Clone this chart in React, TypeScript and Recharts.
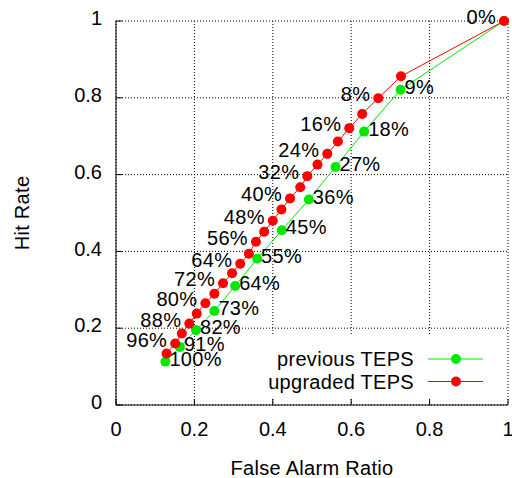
import React from 'react';
import {
  LineChart,
  Line,
  XAxis,
  YAxis,
  CartesianGrid,
  Legend,
  LabelList,
} from 'recharts';

const FONT = '"Liberation Sans", Arial, Helvetica, sans-serif';

// axis ticks
const xTicks = [0, 0.2, 0.4, 0.6, 0.8, 1];
const yTicks = [0, 0.2, 0.4, 0.6, 0.8, 1];

// previous TEPS (green)
const previousFar = [0.99, 0.726, 0.633, 0.56, 0.492, 0.423, 0.36, 0.304, 0.251, 0.204, 0.163, 0.126];
const previousHit = [1.0, 0.821, 0.712, 0.62, 0.535, 0.455, 0.381, 0.31, 0.245, 0.195, 0.151, 0.113];
const previousLabels = ['', '9%', '18%', '27%', '36%', '45%', '55%', '64%', '73%', '82%', '91%', '100%'];

// upgraded TEPS (red)
const upgradedFar = [
  0.99, 0.727, 0.669, 0.628, 0.595, 0.566, 0.539, 0.514, 0.488, 0.47, 0.444, 0.422, 0.4,
  0.378, 0.357, 0.339, 0.317, 0.296, 0.273, 0.251, 0.228, 0.206, 0.187, 0.168, 0.151, 0.129,
];
const upgradedHit = [
  1.0, 0.856, 0.799, 0.758, 0.721, 0.686, 0.654, 0.626, 0.596, 0.567, 0.538, 0.509, 0.48,
  0.451, 0.425, 0.394, 0.368, 0.343, 0.317, 0.29, 0.265, 0.238, 0.212, 0.186, 0.16, 0.134,
];
const upgradedLabels = [
  '0%', '', '8%', '', '16%', '', '24%', '', '32%', '', '40%', '', '48%',
  '', '56%', '', '64%', '', '72%', '', '80%', '', '88%', '', '96%', '',
];

const GREEN = '#00e800';
const RED = '#ff0000';

const toRows = (far: number[], hit: number[], labels: string[]) =>
  far.map((x, i) => ({ x, y: hit[i], label: labels[i] }));

const previousData = toRows(previousFar, previousHit, previousLabels);
const upgradedData = toRows(upgradedFar, upgradedHit, upgradedLabels);

const textStyle = { fontFamily: FONT, fontSize: 20, letterSpacing: 0.3, fill: '#000' };

// red labels sit left of the point, green ones to the right
const leftLabel = (props: any) => {
  const { x, y, value } = props;
  if (!value) return null;
  return (
    <text x={x - 8} y={y - 4} textAnchor="end" dominantBaseline="central" style={textStyle}>
      {value}
    </text>
  );
};

const rightLabel = (props: any) => {
  const { x, y, value } = props;
  if (!value) return null;
  return (
    <text x={x + 4} y={y - 3} textAnchor="start" dominantBaseline="central" style={textStyle}>
      {value}
    </text>
  );
};

const renderLegend = (props: any) => {
  const { payload = [] } = props;
  return (
    <div style={{ background: '#fff', width: 245, height: 63 }}>
      <svg width={245} height={63}>
        {payload.map((entry: any, i: number) => {
          const cy = 23 + i * 22.5;
          return (
            <g key={entry.value}>
              <text x={152} y={cy} textAnchor="end" dominantBaseline="central" style={textStyle}>
                {entry.value}
              </text>
              <line x1={166} x2={221} y1={cy} y2={cy} stroke={entry.color} strokeWidth={1} />
              <circle cx={194} cy={cy} r={5} fill={entry.color} />
            </g>
          );
        })}
      </svg>
    </div>
  );
};

export default function App() {
  return (
    <div
      style={{
        position: 'absolute',
        left: 0,
        top: 0,
        width: 512,
        height: 478,
        background: '#fff',
        fontFamily: FONT,
      }}
    >
      <LineChart width={512} height={478} margin={{ top: 21, right: 4, bottom: 0, left: 0 }}>
        <CartesianGrid stroke="#000" strokeDasharray="1 2" strokeWidth={1} />
        <XAxis
          dataKey="x"
          type="number"
          domain={[0, 1]}
          ticks={xTicks}
          interval={0}
          height={73}
          tickSize={-6}
          tickMargin={23}
          stroke="#000"
          tick={{ fill: '#000', fontSize: 20, fontFamily: FONT }}
          tickFormatter={(v) => String(v)}
          label={({ viewBox }: any) => (
            <text
              x={viewBox.x + viewBox.width / 2}
              y={viewBox.y + 70}
              textAnchor="middle"
              style={textStyle}
            >
              False Alarm Ratio
            </text>
          )}
        />
        <YAxis
          type="number"
          domain={[0, 1]}
          ticks={yTicks}
          interval={0}
          width={116}
          tickSize={-6}
          tickMargin={20}
          stroke="#000"
          tick={{ fill: '#000', fontSize: 20, fontFamily: FONT, dy: -3 }}
          tickFormatter={(v) => String(v)}
          label={({ viewBox }: any) => {
            const cx = viewBox.x + 22;
            const cy = viewBox.y + viewBox.height / 2;
            return (
              <text
                x={cx}
                y={cy}
                transform={`rotate(-90 ${cx} ${cy})`}
                textAnchor="middle"
                dominantBaseline="central"
                style={textStyle}
              >
                Hit Rate
              </text>
            );
          }}
        />
        <XAxis
          xAxisId="top"
          orientation="top"
          type="number"
          domain={[0, 1]}
          height={0}
          tick={false}
          tickLine={false}
          stroke="#000"
        />
        <YAxis
          yAxisId="right"
          orientation="right"
          type="number"
          domain={[0, 1]}
          width={0}
          tick={false}
          tickLine={false}
          stroke="#000"
        />
        <Legend
          layout="vertical"
          align="center"
          verticalAlign="middle"
          wrapperStyle={{ left: 262, top: 336, width: 245, height: 63 }}
          content={renderLegend}
        />
        <Line
          data={previousData}
          dataKey="y"
          name="previous TEPS"
          stroke={GREEN}
          strokeWidth={1}
          dot={{ r: 5, fill: GREEN, stroke: GREEN, strokeWidth: 0 }}
          activeDot={false}
          isAnimationActive={false}
        >
          <LabelList dataKey="label" content={rightLabel} />
        </Line>
        <Line
          data={upgradedData}
          dataKey="y"
          name="upgraded TEPS"
          stroke={RED}
          strokeWidth={1}
          dot={{ r: 5, fill: RED, stroke: RED, strokeWidth: 0 }}
          activeDot={false}
          isAnimationActive={false}
        >
          <LabelList dataKey="label" content={leftLabel} />
        </Line>
      </LineChart>
    </div>
  );
}
